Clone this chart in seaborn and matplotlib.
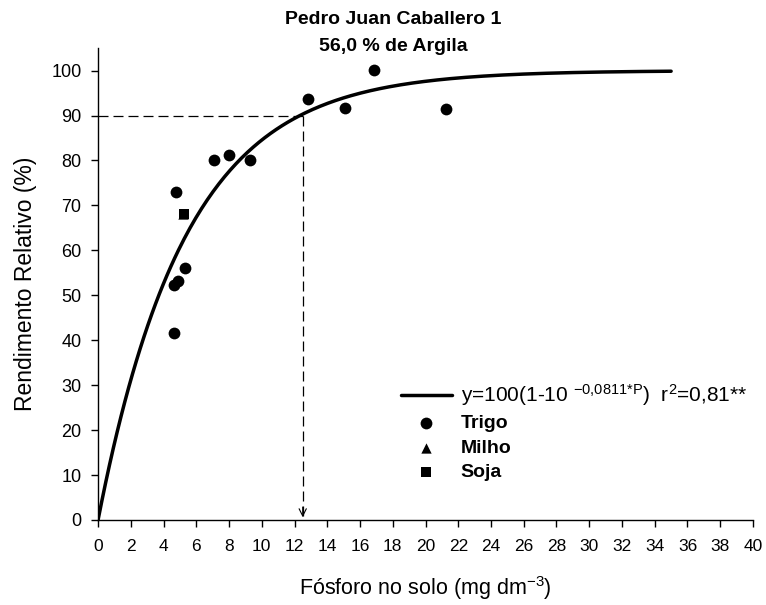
import numpy as np
import pandas as pd
import matplotlib
matplotlib.use("Agg")
import matplotlib.pyplot as plt
import seaborn as sns

# Data
trigo_p = [4.62, 4.62, 4.86, 4.78, 5.3, 7.1, 8.0, 9.26, 12.8, 15.06, 16.87, 21.25]
trigo_y = [41.6, 52.3, 53.1, 73.0, 56.0, 80.2, 81.3, 80.2, 93.7, 91.7, 100.1, 91.5]
milho_p = [5.2]
milho_y = [68.1]
soja_p = [5.23]
soja_y = [68.1]
coef = 0.0811
p_max = 35
crit_p = 12.5
crit_y = 90

sns.set_theme(style="ticks")
plt.rcParams["font.family"] = ["Liberation Sans", "DejaVu Sans"]
plt.rcParams["mathtext.fontset"] = "custom"
plt.rcParams["mathtext.rm"] = "Liberation Sans"
plt.rcParams["mathtext.bf"] = "Liberation Sans:bold"
for k in ["text.color", "axes.labelcolor", "xtick.color", "ytick.color",
          "xtick.labelcolor", "ytick.labelcolor", "axes.edgecolor"]:
    plt.rcParams[k] = "black"

df = pd.DataFrame({
    "P": trigo_p + milho_p + soja_p,
    "Y": trigo_y + milho_y + soja_y,
    "Cultura": ["Trigo"] * len(trigo_p) + ["Milho"] * len(milho_p) + ["Soja"] * len(soja_p),
})
curve_p = np.linspace(0, p_max, 300)
curve = pd.DataFrame({"P": curve_p, "Y": 100 * (1 - 10 ** (-coef * curve_p))})

fig = plt.figure(figsize=(7.66, 6.05), dpi=100)
ax = fig.add_axes([0.128, 0.1405, 0.855, 0.780])

eq = r"y=100(1-10 $\mathregular{^{-0{,}0811{*}P}}$)  r$\mathregular{^2}$=0,81**"
sns.lineplot(data=curve, x="P", y="Y", color="black", linewidth=2.5, ax=ax, label=eq)

# dashed critical lines
ax.plot([0, crit_p], [crit_y, crit_y], color="black", linestyle=(0, (8, 4)), linewidth=0.9)
ax.plot([crit_p, crit_p], [crit_y, 1.0], color="black", linestyle=(0, (8, 4)), linewidth=0.9)
ax.annotate("", xy=(crit_p, 0), xytext=(crit_p, 3.5),
            arrowprops=dict(arrowstyle="->", color="black", lw=0.8, mutation_scale=13))

markers = {"Trigo": "o", "Milho": "^", "Soja": "s"}
sizes = {"Trigo": 72, "Milho": 55, "Soja": 45}
for cult in ["Trigo", "Milho", "Soja"]:
    sub = df[df["Cultura"] == cult]
    sns.scatterplot(data=sub, x="P", y="Y", marker=markers[cult], color="black",
                    s=sizes[cult], edgecolor="black", linewidth=0, ax=ax, label=cult, zorder=3)

ax.set_xlim(0, 40)
ax.set_ylim(0, 105)
ax.set_xticks(np.arange(0, 41, 2))
ax.set_yticks(np.arange(0, 101, 10))
ax.tick_params(axis="x", labelsize=12.5, direction="out", length=5, width=1, color="black",
               labelcolor="black", pad=9)
ax.tick_params(axis="y", labelsize=13, direction="out", length=5, width=1, color="black",
               labelcolor="black", pad=7)
for s in ["top", "right"]:
    ax.spines[s].set_visible(False)
for s in ["left", "bottom"]:
    ax.spines[s].set_linewidth(1)
    ax.spines[s].set_color("black")

ax.set_xlabel("Fósforo no solo (mg dm$\\mathregular{^{-3}}$)", fontsize=15.5, labelpad=14,
              color="black")
ax.set_ylabel("Rendimento Relativo (%)", fontsize=16.5, labelpad=10, color="black")
fig.text(0.513, 0.982, "Pedro Juan Caballero 1\n56,0 % de Argila", fontsize=14,
         fontweight="bold", ha="center", va="top", linespacing=1.75, color="black")

leg = ax.legend(loc="upper left", bbox_to_anchor=(0.451, 0.309), frameon=False,
                fontsize=14, handlelength=2.6, handletextpad=0.45, labelspacing=0.35,
                markerscale=1.0, borderaxespad=0, labelcolor="black")
texts = leg.get_texts()
texts[0].set_fontsize(15)
for t in texts[1:]:
    t.set_fontweight("bold")

fig.savefig("out.png", dpi=100)
